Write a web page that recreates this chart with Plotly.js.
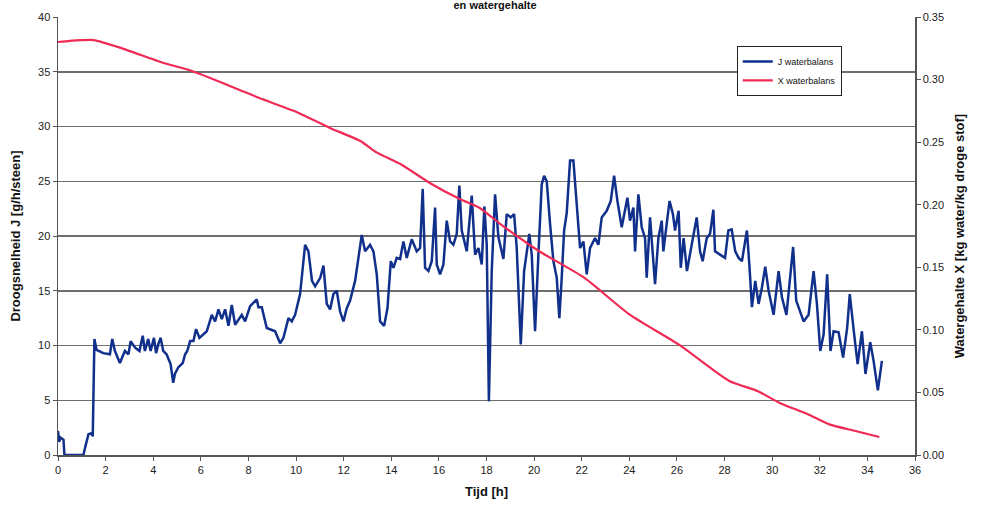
<!DOCTYPE html>
<html>
<head>
<meta charset="utf-8">
<script src="https://cdn.plot.ly/plotly-3.0.1.min.js"></script>
<style>html,body{margin:0;padding:0;background:#fff;}#chart{width:983px;height:510px;}</style>
</head>
<body>
<div id="chart"></div>
<script>
// Time [h] for J waterbalans
const tJ = [
  0,0.05,0.1,0.2,0.23,0.27,1.07,1.14,1.28,1.42,
  1.46,1.53,1.62,1.9,2.18,2.28,2.39,2.6,2.81,2.96,
  3.05,3.24,3.42,3.56,3.65,3.79,3.89,4.03,4.12,4.21,
  4.31,4.42,4.56,4.73,4.84,4.91,5.05,5.24,5.34,5.43,
  5.55,5.69,5.8,5.94,
  6.25,6.46,6.6,6.74,6.88,7.02,7.16,7.3,7.44,7.72,
  7.86,8.07,8.35,8.42,8.56,8.77,9.12,9.33,9.47,9.68,
  9.82,9.96,10.17,10.38,10.52,10.67,10.8,10.94,11.02,11.15,
  11.29,11.43,11.57,11.71,11.85,11.99,12.13,12.27,12.48,12.76,
  12.9,13.11,13.25,13.39,13.53,13.7,13.84,13.98,
  14.09,14.23,14.37,14.51,14.65,14.86,15.07,15.21,15.32,15.42,
  15.56,15.7,15.84,15.91,16.05,16.19,16.33,16.47,16.61,16.75,
  16.86,16.96,17.17,17.38,17.52,17.66,17.8,17.91,18.01,18.1,
  18.22,18.36,18.5,18.71,18.85,19.02,19.16,19.27,19.44,19.58,
  19.69,19.8,19.9,20.04,20.18,20.32,20.42,20.53,
  20.67,20.81,20.95,21.06,21.16,21.26,21.37,21.51,21.65,21.79,
  21.93,22.07,22.21,22.35,22.56,22.7,22.84,23.05,23.22,23.36,
  23.5,23.68,23.82,23.92,24.03,24.17,24.24,24.38,24.52,24.66,
  24.73,
  24.87,25.08,25.22,25.36,25.43,25.57,25.69,25.83,25.92,26.07,
  26.16,26.28,26.42,26.62,26.83,26.97,27.08,27.25,27.39,27.53,
  27.6,27.81,28.02,28.16,28.3,28.45,28.59,28.73,28.94,29.05,
  29.15,29.29,29.43,29.57,29.71,29.85,30.06,30.27,30.41,30.6,
  30.74,30.88,31.01,31.18,31.32,31.53,31.74,31.88,32.02,32.16,
  32.31,32.45,32.58,32.79,32.98,33.15,33.26,33.43,33.59,33.77,
  33.92,34.12,34.26,34.44,34.61
];
// Droogsnelheid J [g/h/steen]
const J = [
  2.2,1.2,1.6,1.5,1.4,0,0,0.7,1.9,2.0,
  1.7,10.6,9.6,9.3,9.2,10.6,9.5,8.4,9.5,9.2,
  10.4,9.8,9.5,10.9,9.5,10.6,9.5,10.7,9.3,10.1,
  10.7,9.5,9.2,8.3,6.6,7.4,8.0,8.4,9.2,9.5,
  10.4,10.4,11.5,10.7,
  11.3,12.8,12.2,13.3,12.4,13.3,11.8,13.7,11.9,12.8,
  12.2,13.6,14.2,13.5,13.5,11.6,11.3,10.2,10.7,12.5,
  12.2,12.8,14.7,19.2,18.6,15.9,15.4,15.9,16.2,17.3,
  13.8,13.3,14.7,15.0,13.1,12.2,13.4,14.1,15.9,20.1,
  18.6,19.2,18.6,16.5,12.2,11.8,13.4,17.7,
  17.1,18.0,17.9,19.5,18.0,19.7,18.6,18.9,24.3,17.1,
  16.8,17.7,22.6,17.4,16.5,17.4,21.4,19.5,19.2,20.2,
  24.6,20.5,18.6,23.7,18.3,18.9,17.4,22.7,19.2,4.9,
  16.8,23.8,19.9,17.9,22.0,21.7,22.0,18.9,10.1,16.8,
  18.3,20.2,18.3,11.3,18.3,24.7,25.5,25.0,
  21.1,17.7,16.2,12.5,16.2,20.5,22.1,26.9,26.9,23.2,
  18.9,19.5,16.5,18.9,19.8,19.2,21.7,22.3,23.2,25.5,
  23.2,20.8,22.6,23.5,21.4,22.6,18.6,23.8,20.8,19.8,
  16.2,
  21.7,15.6,19.8,21.4,18.6,21.1,23.2,22.0,20.5,22.3,
  17.1,19.8,16.8,19.2,21.7,18.6,17.7,19.8,20.2,22.4,
  18.6,18.3,18.0,20.5,20.6,18.6,18.0,17.7,20.5,17.1,
  13.5,15.9,13.8,15.3,17.2,15.0,12.8,16.8,14.4,12.8,
  15.6,19.0,14.1,13.1,12.2,12.8,16.8,13.8,9.5,11.0,
  16.5,9.5,11.3,11.2,8.9,11.6,14.7,11.3,8.3,11.3,
  7.4,10.3,8.6,5.9,8.6
];
// Time [h] for X waterbalans
const tX = [0,0.5,1,1.5,2.6,4.4,5.6,7.4,8.6,9.9,11.4,12.7,13.4,14.4,15.6,16.9,17.7,18.6,20.2,22.1,24.0,26.1,28.2,29.4,30.3,31.5,32.4,33.5,34.5];
// Watergehalte X [kg water/kg droge stof]
const X = [0.330,0.331,0.3315,0.3315,0.3255,0.3135,0.307,0.2935,0.2842,0.275,0.2616,0.2509,0.2416,0.2323,0.2176,0.2043,0.1976,0.1843,0.163,0.1417,0.1124,0.088,0.0591,0.051,0.0418,0.0325,0.0245,0.0192,0.0144];

const xTicks = [0,2,4,6,8,10,12,14,16,18,20,22,24,26,28,30,32,34,36];
const yTicks = [0,5,10,15,20,25,30,35,40];
const y2Ticks = [0,0.05,0.10,0.15,0.20,0.25,0.30,0.35];

const FONT = 'Liberation Sans, Arial, sans-serif';
const tickFont = {family: FONT, size: 11, color: '#222'};
const titleFont = {family: FONT, size: 13, color: '#111', weight: 'bold'};

const traces = [
  {x: tJ, y: J, name: 'J waterbalans', type: 'scatter', mode: 'lines',
   line: {color: '#10308c', width: 2.5}, yaxis: 'y'},
  {x: tX, y: X, name: 'X waterbalans', type: 'scatter', mode: 'lines',
   line: {color: '#ee2a55', width: 2.2, shape: 'spline', smoothing: 0.6}, yaxis: 'y2'}
];

const layout = {
  width: 983, height: 510,
  paper_bgcolor: '#fff', plot_bgcolor: '#fff',
  margin: {l: 58, r: 68, t: 17, b: 55},
  showlegend: true,
  title: {text: 'en watergehalte', font: {family: FONT, size: 11, color: '#111', weight: 'bold'},
          xref: 'paper', x: 0.51, xanchor: 'center', yref: 'container', y: 1, yanchor: 'top',
          pad: {t: 1, b: 0, l: 0, r: 0}},
  legend: {x: 0.792, y: 0.934, xanchor: 'left', yanchor: 'top', bgcolor: '#fff',
           bordercolor: '#222', borderwidth: 1, font: {family: FONT, size: 9, color: '#111'},
           tracegroupgap: 0, itemwidth: 30},
  xaxis: {range: [0, 36], tickvals: xTicks, ticktext: xTicks.map(String), ticks: 'outside', ticklen: 4,
          tickcolor: '#555', showline: true, linecolor: '#555', linewidth: 1.5, showgrid: false, zeroline: false,
          tickfont: tickFont,
          title: {text: 'Tijd [h]', font: titleFont, standoff: 12}},
  yaxis: {range: [0, 40], tickvals: yTicks, ticktext: yTicks.map(String), ticks: 'outside', ticklen: 4,
          tickcolor: '#555', showline: true, linecolor: '#555', linewidth: 1.5,
          showgrid: true, gridcolor: '#6e6e6e', gridwidth: 1.5, zeroline: false,
          tickfont: tickFont,
          title: {text: 'Droogsnelheid J [g/h/steen]', font: titleFont, standoff: 14}},
  yaxis2: {range: [0, 0.35], overlaying: 'y', side: 'right', tickvals: y2Ticks,
           ticktext: y2Ticks.map(v => v.toFixed(2)), ticks: 'outside', ticklen: 4,
           tickcolor: '#555', showline: true, linecolor: '#555', linewidth: 1.5,
           showgrid: false, zeroline: false, tickfont: tickFont,
           title: {text: 'Watergehalte X [kg water/kg droge stof]', font: titleFont, standoff: 12}}
};

Plotly.newPlot('chart', traces, layout, {displayModeBar: false, staticPlot: true});
</script>
</body>
</html>
